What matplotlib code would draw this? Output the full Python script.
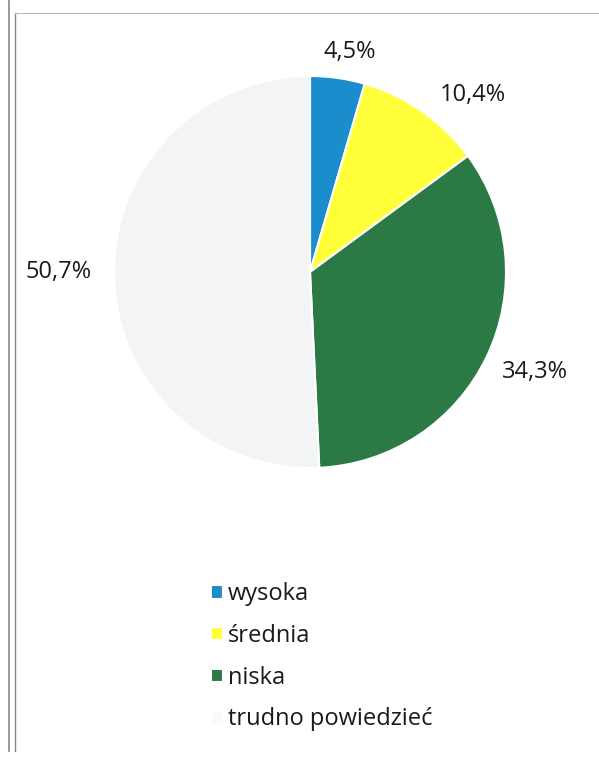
import matplotlib
matplotlib.use("Agg")
import matplotlib.pyplot as plt

# data
categories = ["wysoka", "średnia", "niska", "trudno powiedzieć"]
shares = [4.5, 10.4, 34.3, 50.7]
value_labels = ["4,5%", "10,4%", "34,3%", "50,7%"]
colors = ["#1b8dcc", "#ffff3a", "#2b7a45", "#f3f4f6"]

plt.rcParams["font.family"] = ["Open Sans", "DejaVu Sans"]

fig = plt.figure(figsize=(5.99, 7.59), dpi=100)
ax = fig.add_axes([0, 0, 1, 1])

# pie, drawn in pixel-like coordinates (y up)
wedges, _ = ax.pie(shares, colors=colors, startangle=90, counterclock=False,
                   center=(310, 487), radius=196, frame=True,
                   wedgeprops=dict(edgecolor="white", linewidth=1.5))
ax.set_xlim(0, 599)
ax.set_ylim(0, 759)
ax.set_aspect("equal")
ax.axis("off")

# value labels
label_pos = [(350, 707), (473, 664), (535, 387), (59, 487)]
for (x, y), txt in zip(label_pos, value_labels):
    ax.text(x, y, txt, ha="center", va="center", fontsize=17, color="#1a1a1a")

# legend
leg = ax.legend(wedges, categories, loc="upper left", bbox_to_anchor=(190 / 599, 1 - 561 / 759),
                frameon=False, fontsize=17, handlelength=0.5, handleheight=0.5,
                handletextpad=0.2, labelspacing=0.75)
for t in leg.get_texts():
    t.set_color("#1a1a1a")
# the "trudno powiedzieć" swatch is almost invisible in the scan
leg.legend_handles[3].set_facecolor("#fafafb")

# scanned page borders
ax.plot([9, 9], [8, 759], color="#888888", lw=1.2)
ax.plot([15, 15], [8, 746], color="#888888", lw=1.0)
ax.plot([15, 599], [746, 746], color="#bbbbbb", lw=0.8)

fig.savefig("out.png", dpi=100)
